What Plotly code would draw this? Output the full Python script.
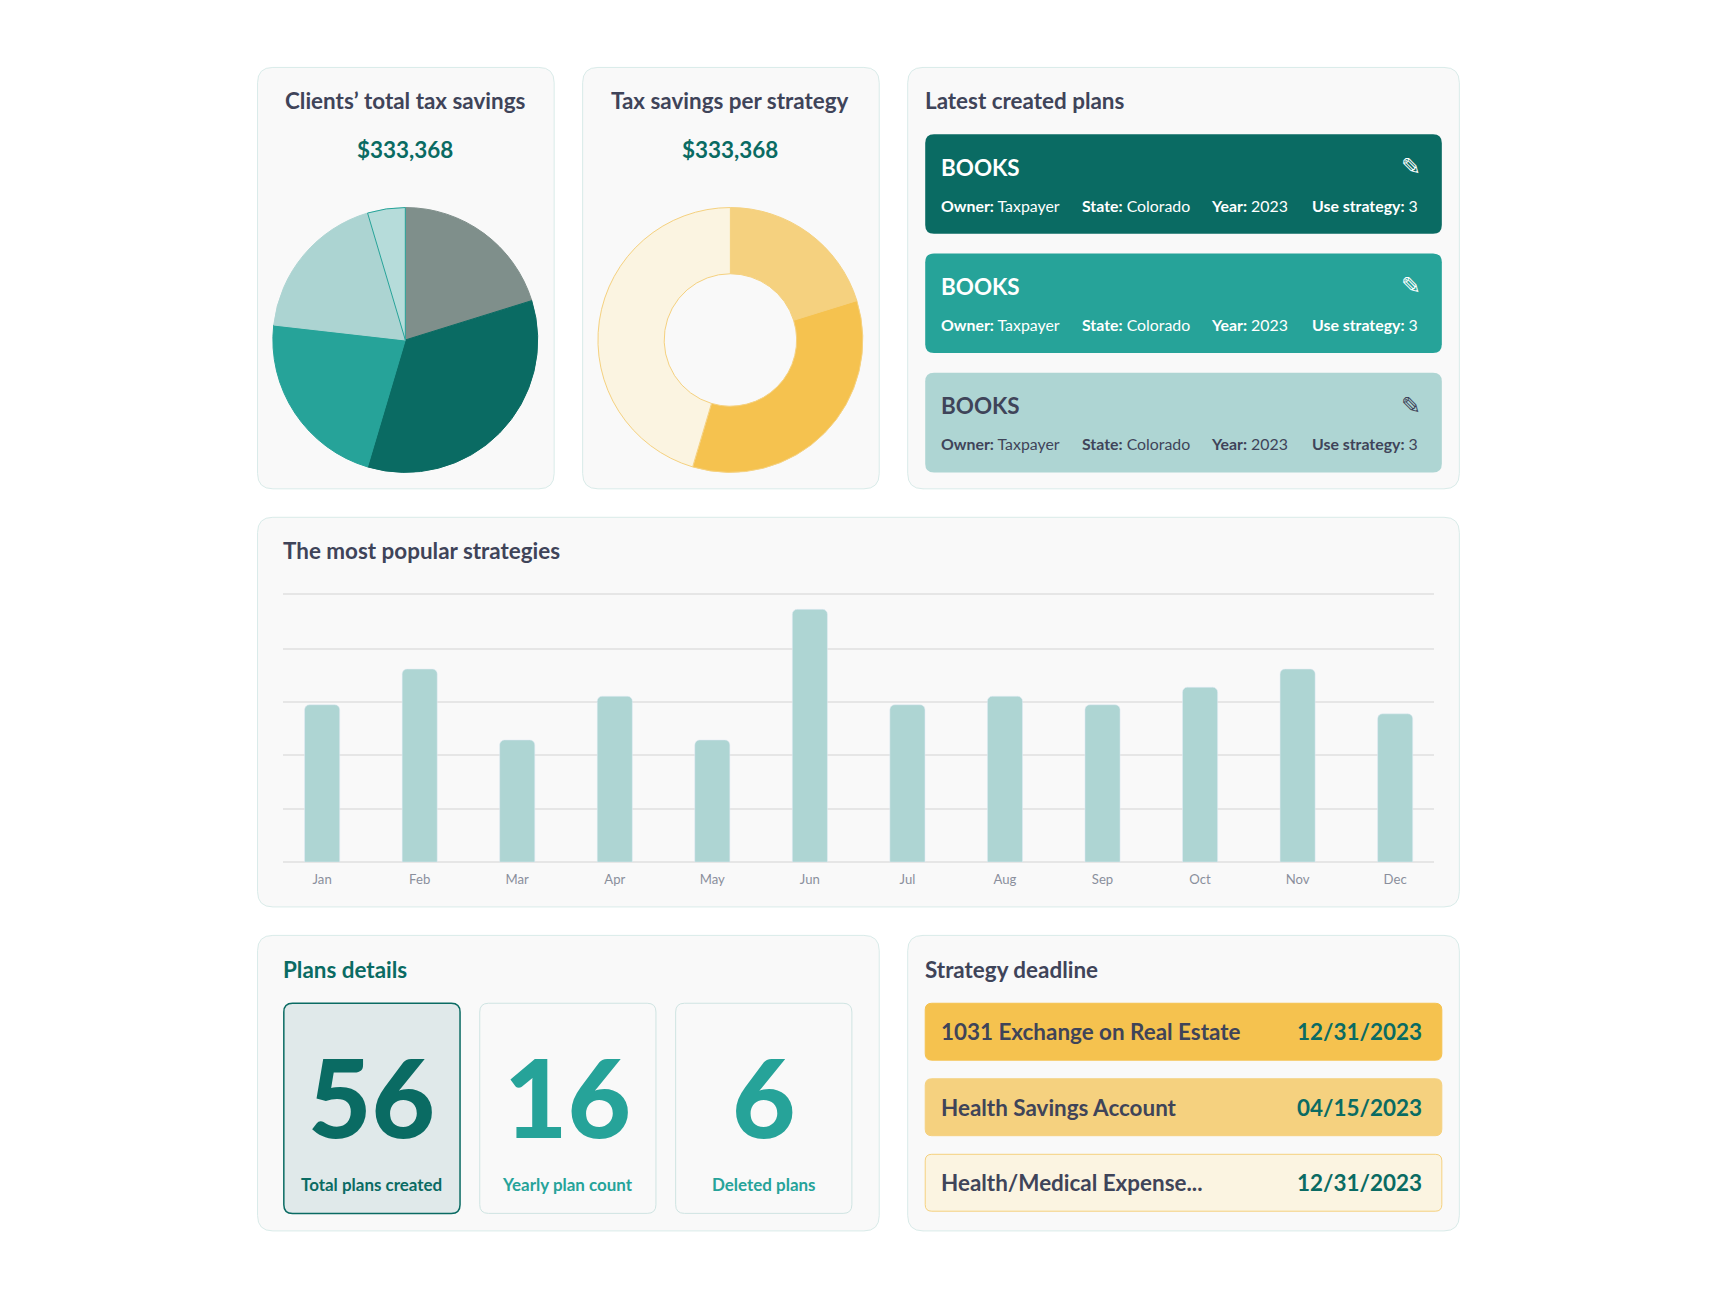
import plotly.graph_objects as go

W, H = 1716, 1299
S = 1716 / 1560  # layout measured on a 1560 wide view

FONT = "Lato"
DARK = "#3f4459"
TEAL_D = "#0a6b63"
TEAL = "#26a399"
TEAL_L = "#aed5d3"

# data
pie_labels = ["A", "B", "C", "D", "E"]
pie_values = [20.2, 34.4, 22.2, 18.6, 4.6]
pie_colors = ["#7f8f8b", TEAL_D, TEAL, "#acd4d2", "#b6dcda"]

donut_labels = ["A", "B", "C"]
donut_values = [20.2, 34.4, 45.4]
donut_colors = ["#f5d17f", "#f5c24f", "#fbf4e1"]

months = ["Jan", "Feb", "Mar", "Apr", "May", "Jun", "Jul", "Aug", "Sep", "Oct", "Nov", "Dec"]
strategy_counts = [29.5, 36.2, 22.9, 31.1, 22.9, 47.4, 29.5, 31.1, 29.5, 32.8, 36.2, 27.8]

plan_fills = [TEAL_D, TEAL, TEAL_L]
plan_text = ["white", "white", DARK]

detail_values = ["56", "16", "6"]
detail_labels = ["Total plans created", "Yearly plan count", "Deleted plans"]

deadline_names = ["1031 Exchange on Real Estate", "Health Savings Account", "Health/Medical Expense..."]
deadline_dates = ["12/31/2023", "04/15/2023", "12/31/2023"]
deadline_fills = ["#f5c24f", "#f5d17f", "#fbf4e1"]

K = S / 1.005
OX, OY = 7, 7.7


def px(x):
    return (x - OX) * K / W


def py(y):
    return 1 - (y - OY) * K / H


def rrect(x0, y0, x1, y1, r, fill, line="rgba(0,0,0,0)", lw=1):
    X = lambda v: px(v)
    Y = lambda v: py(v)
    p = (f"M {X(x0+r)},{Y(y0)} L {X(x1-r)},{Y(y0)} Q {X(x1)},{Y(y0)} {X(x1)},{Y(y0+r)} "
         f"L {X(x1)},{Y(y1-r)} Q {X(x1)},{Y(y1)} {X(x1-r)},{Y(y1)} "
         f"L {X(x0+r)},{Y(y1)} Q {X(x0)},{Y(y1)} {X(x0)},{Y(y1-r)} "
         f"L {X(x0)},{Y(y0+r)} Q {X(x0)},{Y(y0)} {X(x0+r)},{Y(y0)} Z")
    return dict(type="path", path=p, xref="paper", yref="paper", fillcolor=fill,
                line=dict(color=line, width=lw), layer="below")


shapes = []
ann = []


def text(x, y, t, size, color, anchor="left", family=FONT):
    ann.append(dict(x=px(x), y=py(y), xref="paper", yref="paper", text=t, showarrow=False,
                    xanchor=anchor, yanchor="middle", font=dict(size=size * K, color=color, family=family)))


CARD = "#f9f9f9"
CARD_LINE = "#d9ebe9"
for (a, b, c, d) in [(235, 62, 506, 447), (532, 62, 803, 447), (829, 62, 1333, 447),
                     (235, 473, 1333, 829), (235, 855, 803, 1125), (829, 855, 1333, 1125)]:
    shapes.append(rrect(a, b, c, d, 14, CARD, CARD_LINE))

fig = go.Figure()

# pie
r = 121
fig.add_trace(go.Pie(labels=pie_labels, values=pie_values, sort=False, direction="clockwise",
                     rotation=0, marker=dict(colors=pie_colors, line=dict(color=["#7f8f8b", TEAL_D, TEAL, TEAL_L, TEAL], width=1)),
                     textinfo="none", hoverinfo="label+percent", showlegend=False,
                     domain=dict(x=[px(370 - r), px(370 + r)], y=[py(311 + r), py(311 - r)])))
fig.add_trace(go.Pie(labels=donut_labels, values=donut_values, sort=False, direction="clockwise",
                     rotation=0, hole=0.5, marker=dict(colors=donut_colors, line=dict(color="#f5d17f", width=1)),
                     textinfo="none", hoverinfo="label+percent", showlegend=False,
                     domain=dict(x=[px(667 - r), px(667 + r)], y=[py(311 + r), py(311 - r)])))

text(370, 92, "<b>Clients’ total tax savings</b>", 20.5, DARK, "center")
text(370, 137, "<b>$333,368</b>", 20.5, TEAL_D, "center")
text(667, 92, "<b>Tax savings per strategy</b>", 20.5, DARK, "center")
text(667, 137, "<b>$333,368</b>", 20.5, TEAL_D, "center")

# latest plans
text(843, 92, "<b>Latest created plans</b>", 20.5, DARK)
for i, (fc, tc) in enumerate(zip(plan_fills, plan_text)):
    y0 = 123 + i * 109
    shapes.append(rrect(845, y0, 1317, y0 + 91, 8, fc))
    text(858, y0 + 30, "<b>BOOKS</b>", 20.5, tc)
    text(1300, y0 + 30, "✎", 22, tc, "right", "DejaVu Sans")
    for fx, lab, val in [(858, "Owner:", "Taxpayer"), (986, "State:", "Colorado"),
                         (1104, "Year:", "2023"), (1197, "Use strategy:", "3")]:
        text(fx, y0 + 65, f"<b>{lab}</b> {val}", 14.5, tc)

# bar chart
text(256, 503, "<b>The most popular strategies</b>", 20.5, DARK)
fig.add_trace(go.Bar(x=list(range(len(months))), y=strategy_counts, marker=dict(color=TEAL_L),
                     width=0.36, showlegend=False))

# plan details
text(256, 886, "<b>Plans details</b>", 20.5, TEAL_D)
for i, (v, lab) in enumerate(zip(detail_values, detail_labels)):
    x0 = 259 + i * 179
    col = TEAL_D if i == 0 else TEAL
    shapes.append(rrect(x0, 917, x0 + 161, 1109, 8, "#e0e9ea" if i == 0 else CARD,
                        TEAL_D if i == 0 else "#cfe4e2", 1.5 if i == 0 else 1))
    text(x0 + 80.5, 1001, f"<b>{v}</b>", 100, col, "center", "Lato Black, Lato")
    text(x0 + 80.5, 1083, f"<b>{lab}</b>", 15.5, col, "center")

# deadlines
text(843, 886, "<b>Strategy deadline</b>", 20.5, DARK)
for i, (n, d, fc) in enumerate(zip(deadline_names, deadline_dates, deadline_fills)):
    y0 = 917 + i * 69
    shapes.append(rrect(845, y0, 1317, y0 + 52, 6, fc, "#f5d17f" if i == 2 else fc))
    text(858, y0 + 26, f"<b>{n}</b>", 20.5, DARK)
    text(1301, y0 + 26, f"<b>{d}</b>", 20.5, TEAL_D, "right")

fig.update_layout(
    width=W, height=H, margin=dict(l=0, r=0, t=0, b=0),
    paper_bgcolor="white", plot_bgcolor="rgba(0,0,0,0)",
    shapes=shapes, annotations=ann, barcornerradius=5,
    font=dict(family=FONT),
    xaxis=dict(domain=[px(258), px(1310)], range=[-0.404, 11.40], showgrid=False, zeroline=False,
               showline=False, ticks="", tickvals=list(range(len(months))), ticktext=months,
               ticklabelstandoff=8, tickfont=dict(size=12 * K, color="#8a8f9c")),
    yaxis=dict(domain=[py(788), py(542)], range=[0, 50.5], tickvals=[0, 10, 20, 30, 40, 50.3],
               showticklabels=False,
               gridcolor="#e6e6e6", gridwidth=1.5, zeroline=True, zerolinecolor="#e6e6e6"),
)

fig.write_html("out.html")
